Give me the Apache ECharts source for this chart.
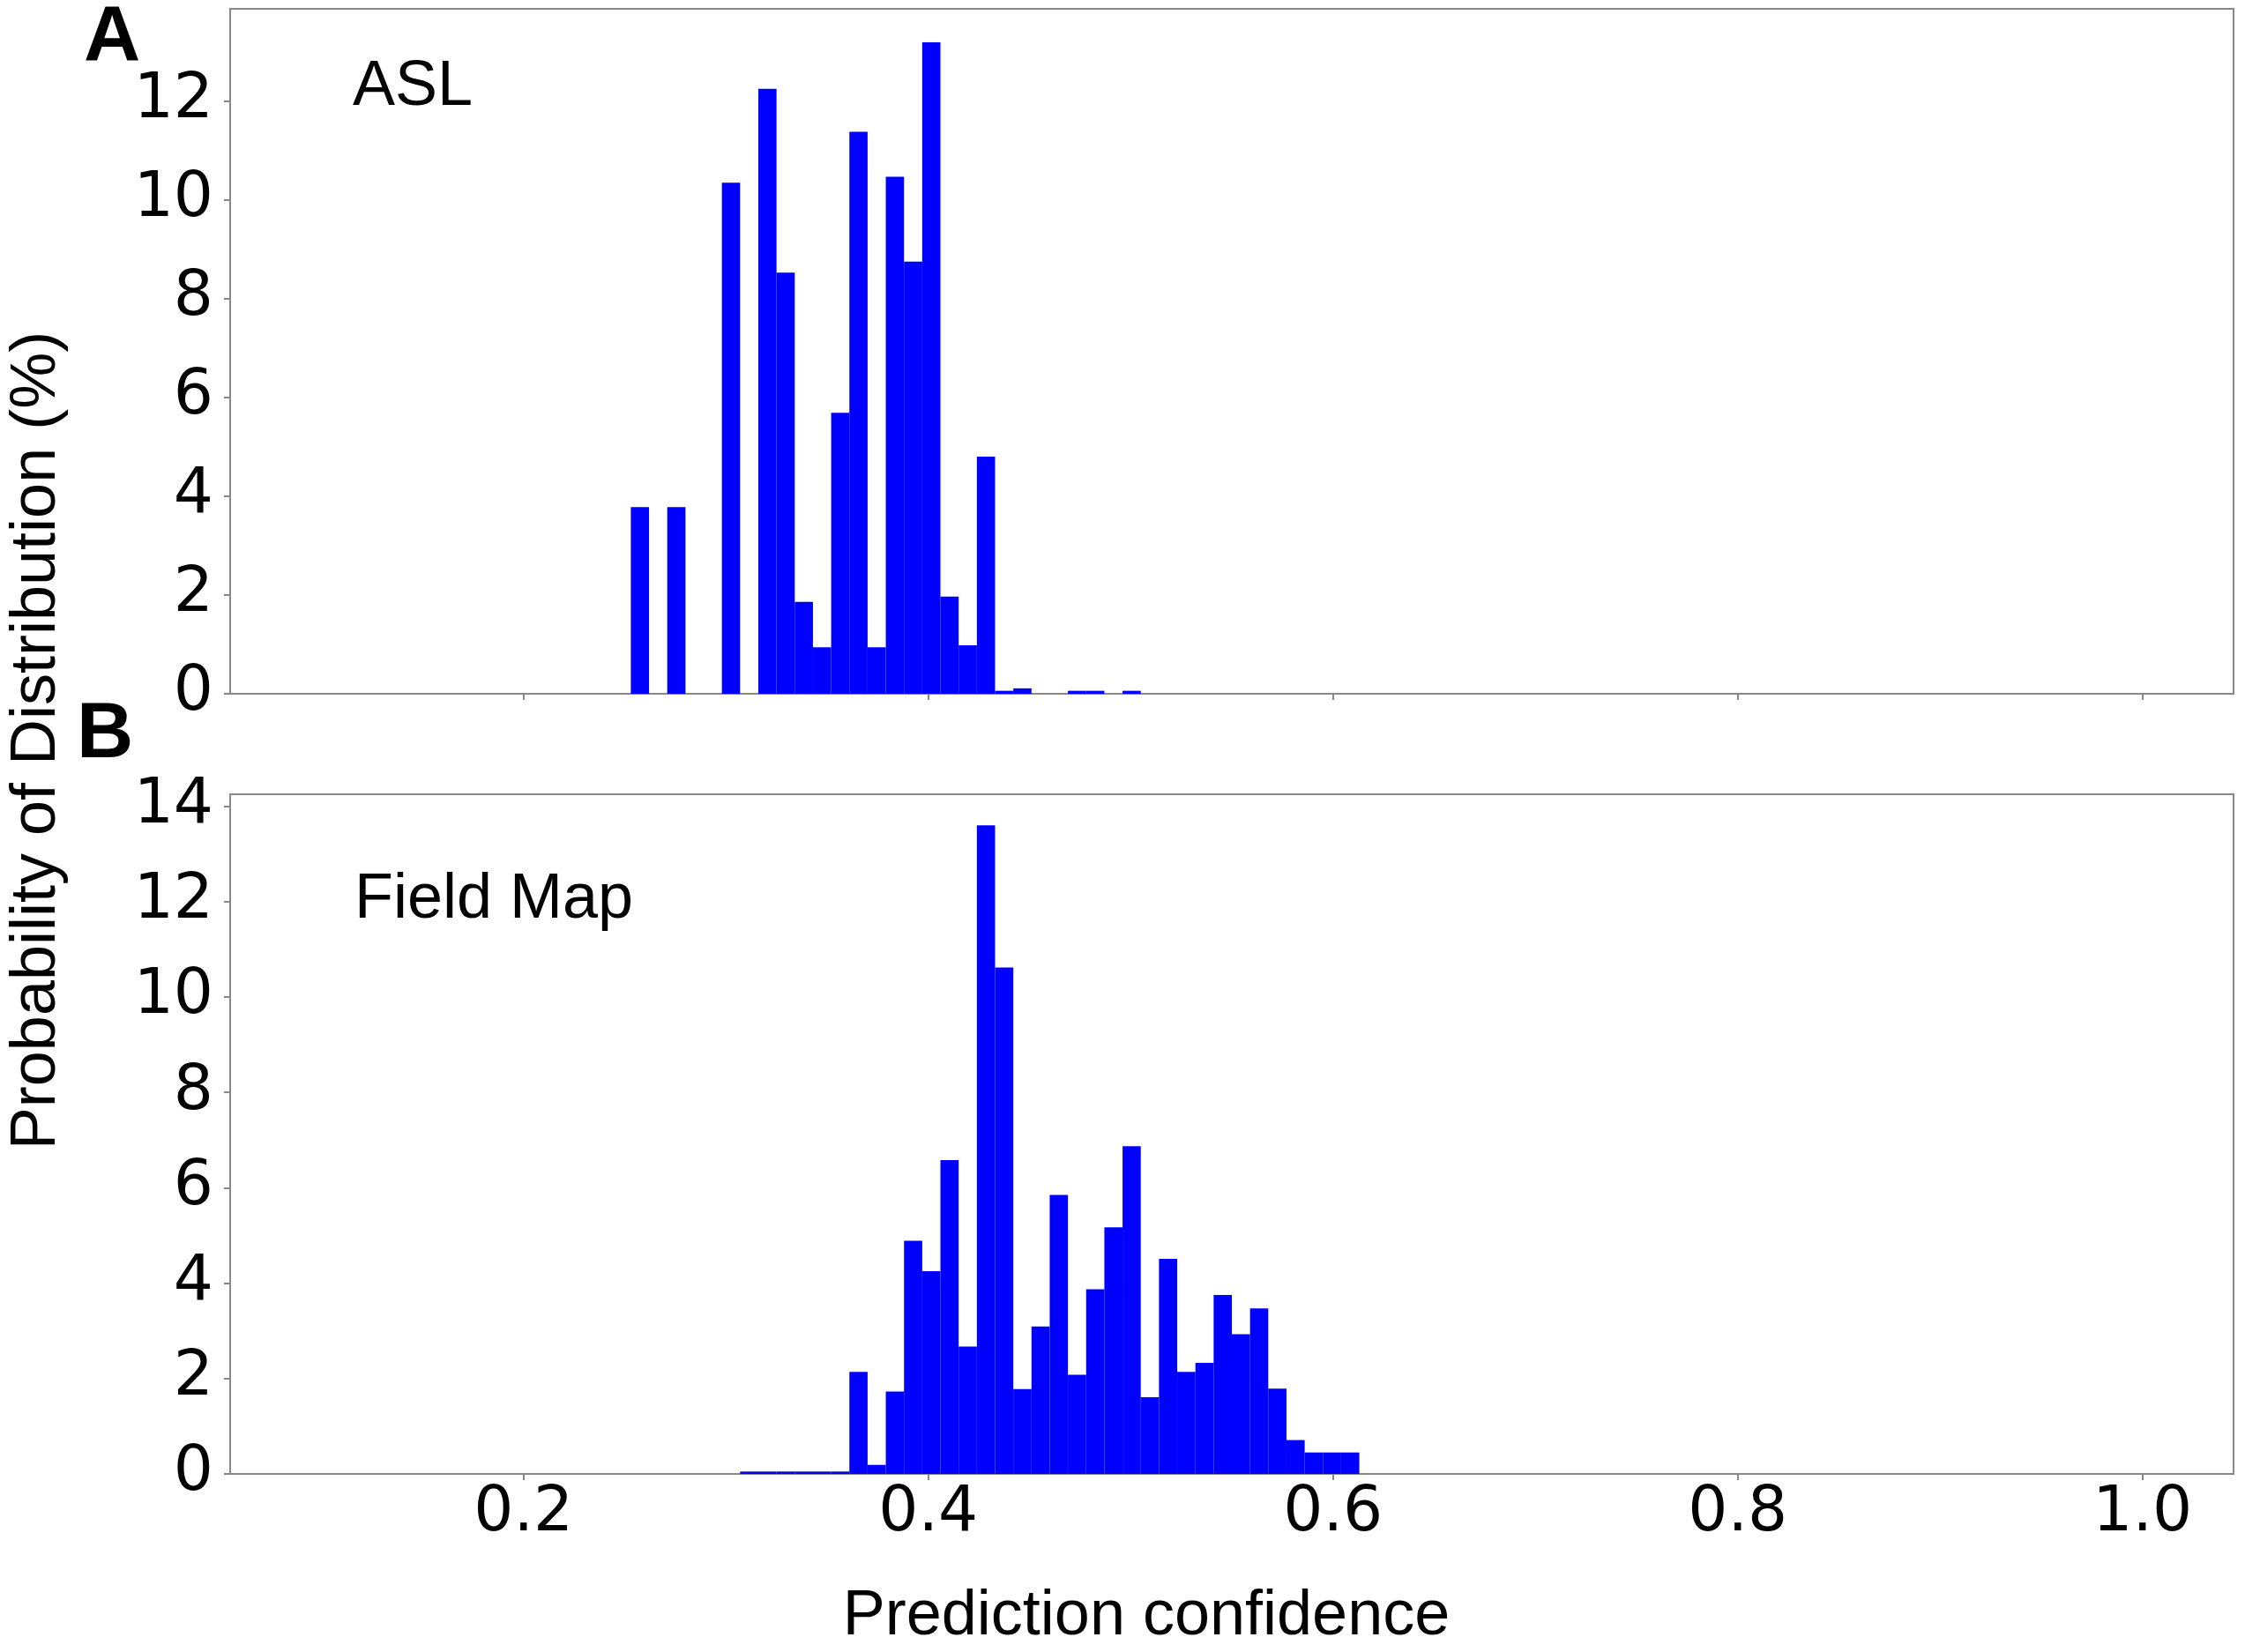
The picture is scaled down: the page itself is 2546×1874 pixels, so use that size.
<!DOCTYPE html>
<html>
<head>
<meta charset="utf-8">
<script src="https://cdn.jsdelivr.net/npm/echarts@6/dist/echarts.min.js"></script>
<style>
  html, body { margin: 0; padding: 0; background: #fff; }
  #main { width: 2546px; height: 1874px; }
</style>
</head>
<body>
<div id="main"></div>
<script>
// histogram bins are 0.009 wide (100 bins between 0.1 and 1.0)
const binWidth = 0.009

// A - ASL : left edge of each non-empty bin and its height (%)
const aslLeft = [0.253, 0.271, 0.298, 0.316, 0.325, 0.334, 0.343, 0.352, 0.361, 0.370, 0.379,
  0.388, 0.397, 0.406, 0.415, 0.424, 0.433, 0.442, 0.469, 0.478, 0.496]
const aslValue = [3.78, 3.78, 10.35, 12.25, 8.53, 1.86, 0.94, 5.69, 11.38, 0.94, 10.47,
  8.75, 13.19, 1.97, 0.98, 4.80, 0.06, 0.11, 0.06, 0.06, 0.06]

// B - Field Map
const fieldLeft = [0.307, 0.316, 0.325, 0.334, 0.343, 0.352, 0.361, 0.370, 0.379, 0.388,
  0.397, 0.406, 0.415, 0.424, 0.433, 0.442, 0.451, 0.460, 0.469, 0.478, 0.487, 0.496,
  0.505, 0.514, 0.523, 0.532, 0.541, 0.550, 0.559, 0.568, 0.577, 0.586, 0.595, 0.604]
const fieldValue = [0.05, 0.05, 0.05, 0.05, 0.05, 0.05, 2.14, 0.19, 1.73, 4.89,
  4.25, 6.58, 2.67, 13.60, 10.62, 1.78, 3.09, 5.85, 2.08, 3.87, 5.17, 6.87,
  1.61, 4.51, 2.14, 2.33, 3.75, 2.93, 3.47, 1.79, 0.71, 0.45, 0.45, 0.45]

// tick labels
const xTicks = [0.2, 0.4, 0.6, 0.8, 1.0]
const aslYTicks = [0, 2, 4, 6, 8, 10, 12]
const fieldYTicks = [0, 2, 4, 6, 8, 10, 12, 14]

const tickFont = 'DejaVu Sans'
const textFont = '"Liberation Sans", Arial, sans-serif'
const frameColor = '#888888'

function toBins(left, value) {
  return left.map((l, i) => [l, +(l + binWidth).toFixed(3), value[i]])
}

function renderBin(params, api) {
  const top = api.coord([api.value(0), api.value(2)])
  const bottom = api.coord([api.value(1), 0])
  return {
    type: 'rect',
    shape: { x: top[0], y: top[1], width: bottom[0] - top[0], height: bottom[1] - top[1] },
    style: { fill: '#0000ff' }
  }
}

function xAxisFor(index, showLabel) {
  return {
    type: 'value',
    gridIndex: index,
    min: 0.055,
    max: 1.045,
    axisLine: { show: true, lineStyle: { color: frameColor, width: 2 } },
    axisTick: { show: true, customValues: xTicks, length: 7, lineStyle: { color: frameColor, width: 2 } },
    axisLabel: {
      show: showLabel,
      customValues: xTicks,
      margin: 10,
      fontFamily: tickFont,
      fontSize: 71,
      color: '#000',
      formatter: v => v.toFixed(1)
    },
    splitLine: { show: false }
  }
}

function yAxisFor(index, max, ticks) {
  return {
    type: 'value',
    gridIndex: index,
    min: 0,
    max: max,
    axisLine: { show: true, lineStyle: { color: frameColor, width: 2 } },
    axisTick: { show: true, customValues: ticks, length: 7, lineStyle: { color: frameColor, width: 2 } },
    axisLabel: {
      customValues: ticks,
      margin: 19,
      fontFamily: tickFont,
      fontSize: 71,
      color: '#000'
    },
    splitLine: { show: false }
  }
}

const chart = echarts.init(document.getElementById('main'), null, { width: 2546, height: 1874 })

chart.setOption({
  backgroundColor: '#fff',
  animation: false,
  grid: [
    { left: 261, top: 10, width: 2272, height: 777, show: true, borderColor: frameColor, borderWidth: 2 },
    { left: 261, top: 901, width: 2272, height: 771, show: true, borderColor: frameColor, borderWidth: 2 }
  ],
  xAxis: [xAxisFor(0, false), xAxisFor(1, true)],
  yAxis: [yAxisFor(0, 13.87, aslYTicks), yAxisFor(1, 14.25, fieldYTicks)],
  series: [
    {
      name: 'ASL',
      type: 'custom',
      xAxisIndex: 0,
      yAxisIndex: 0,
      renderItem: renderBin,
      encode: { x: [0, 1], y: 2 },
      data: toBins(aslLeft, aslValue)
    },
    {
      name: 'Field Map',
      type: 'custom',
      xAxisIndex: 1,
      yAxisIndex: 1,
      renderItem: renderBin,
      encode: { x: [0, 1], y: 2 },
      data: toBins(fieldLeft, fieldValue)
    }
  ],
  graphic: [
    // panel letters
    { type: 'text', left: 95, top: 0, style: { text: 'A', font: 'bold 89px ' + textFont, fill: '#000' } },
    { type: 'text', left: 87, top: 790, style: { text: 'B', font: 'bold 89px ' + textFont, fill: '#000' } },
    // panel names
    { type: 'text', left: 400, top: 63, style: { text: 'ASL', font: '72px ' + textFont, fill: '#000' } },
    { type: 'text', left: 402, top: 985, style: { text: 'Field Map', font: '72px ' + textFont, fill: '#000' } },
    // axis names
    {
      type: 'text',
      x: 42,
      y: 840,
      rotation: Math.PI / 2,
      style: {
        text: 'Probability of Distribution (%)',
        font: '72px ' + textFont,
        fill: '#000',
        align: 'center',
        verticalAlign: 'middle'
      }
    },
    {
      type: 'text',
      x: 1300,
      y: 1834,
      style: {
        text: 'Prediction confidence',
        font: '72px ' + textFont,
        fill: '#000',
        align: 'center',
        verticalAlign: 'middle'
      }
    }
  ]
})
</script>
</body>
</html>
